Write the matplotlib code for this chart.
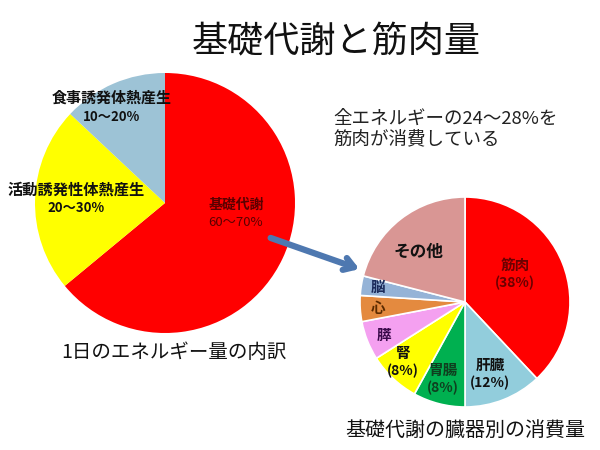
import matplotlib
matplotlib.use("Agg")
import matplotlib.pyplot as plt

plt.rcParams['font.family'] = ['Noto Sans CJK JP', 'DejaVu Sans']

# Left pie: daily energy breakdown
left_labels = ["基礎代謝", "活動誘発性体熱産生", "食事誘発体熱産生"]
left_ranges = ["60～70%", "20～30%", "10～20%"]
left_values = [64, 23, 13]
left_colors = ["#FF0000", "#FFFF00", "#9DC3D6"]

# Right pie: basal metabolism by organ
right_labels = ["筋肉", "肝臓", "胃腸", "腎", "膵", "心", "脳", "その他"]
right_pcts = ["(38%)", "(12%)", "(8%)", "(8%)", "", "", "", ""]
right_values = [38, 12, 8, 8, 6, 4, 3, 21]
right_colors = ["#FF0000", "#92CDDC", "#00B050", "#FFFF00",
                "#F4A0F0", "#E48A3F", "#95B3D7", "#D99694"]

title = "基礎代謝と筋肉量"
note = "全エネルギーの24～28%を\n筋肉が消費している"
left_caption = "1日のエネルギー量の内訳"
right_caption = "基礎代謝の臓器別の消費量"

H = 450
fig = plt.figure(figsize=(6, 4.5), dpi=100)
ax = fig.add_axes([0, 0, 1, 1])

ax.pie(left_values, colors=left_colors, startangle=90, counterclock=False,
       center=(165, H - 203), radius=130,
       wedgeprops=dict(linewidth=0))
ax.pie(right_values, colors=right_colors, startangle=90, counterclock=False,
       center=(465, H - 302), radius=105,
       wedgeprops=dict(linewidth=1.2, edgecolor="white"))

ax.set_xlim(0, 600)
ax.set_ylim(0, H)
ax.set_aspect('auto')
ax.axis('off')

def t(x, y, s, **kw):
    ax.text(x, H - y, s, ha='center', va='center', **kw)

t(336, 42, title, fontsize=26, color='#111111')
ax.text(333, H - 129, note, ha='left', va='center', fontsize=13.3,
        color='#222222', linespacing=1.15)
t(174, 353, left_caption, fontsize=14, color='#111111')
t(465, 430, right_caption, fontsize=14.4, color='#111111')

# left pie labels
t(236, 205, left_labels[0], fontsize=10, fontweight='bold', color='#5A0000')
t(236, 223, left_ranges[0], fontsize=9.5, color='#5A0000')
t(76, 190, left_labels[1], fontsize=11, fontweight='bold', color='#111111')
t(76, 208, left_ranges[1], fontsize=9.5, fontweight='bold', color='#111111')
t(112, 98, left_labels[2], fontsize=10.8, fontweight='bold', color='#111111')
t(112, 117, left_ranges[2], fontsize=9.5, fontweight='bold', color='#111111')

# right pie labels
pos = {"筋肉": (515, 265), "肝臓": (490, 365), "胃腸": (443, 370), "腎": (403, 353),
       "膵": (384, 335), "心": (378, 308), "脳": (378, 287), "その他": (418, 252)}
tcol = {"筋肉": '#6A0000', "肝臓": '#111111', "胃腸": '#0F3F1F', "腎": '#111111',
        "膵": '#3A0A4A', "心": '#5A2A00', "脳": '#1A2A5A', "その他": '#111111'}
for lab, pct in zip(right_labels, right_pcts):
    x, y = pos[lab]
    fs = 12 if lab == "その他" else 10.5
    t(x, y, lab, fontsize=fs, fontweight='bold', color=tcol[lab])
    if pct:
        t(x, y + 18, pct, fontsize=10, fontweight='bold', color=tcol[lab])

ax.annotate('', xy=(362, H - 270), xytext=(268, H - 237),
            arrowprops=dict(arrowstyle='->,head_length=0.7,head_width=0.45',
                            lw=4.5, color='#4E78B0'))

fig.savefig('out.png', dpi=100)
